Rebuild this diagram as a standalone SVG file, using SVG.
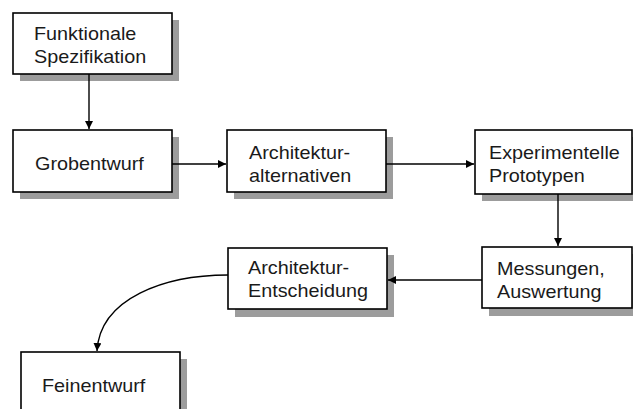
<svg xmlns="http://www.w3.org/2000/svg" width="633" height="409" viewBox="0 0 633 409">
<defs>
<style>
.box{fill:#fff;stroke:#000;stroke-width:1.6}
.sh{fill:#9c9c9c}
.t{font-family:"Liberation Sans",Arial,sans-serif;font-size:18px;fill:#1a1a1a}
.c{fill:none;stroke:#000;stroke-width:1.4}
</style>
<marker id="ah" viewBox="0 0 10 10" refX="10" refY="5" markerWidth="8" markerHeight="8" markerUnits="userSpaceOnUse" orient="auto">
<path d="M0,0 L10,5 L0,10 Z" fill="#000"/>
</marker>
</defs>
<rect width="633" height="409" fill="#fff"/>
<g id="n1">
<rect class="sh" x="20" y="20" width="159" height="61"/>
<rect class="box" x="13" y="13" width="159" height="61"/>
<g transform="translate(34,40) scale(1.1,1)"><text class="t" x="0" y="0">Funktionale</text><text class="t" x="0" y="23">Spezifikation</text></g>
</g>
<g id="n2">
<rect class="sh" x="20" y="137" width="159" height="62"/>
<rect class="box" x="13" y="130" width="159" height="62"/>
<g transform="translate(35,170) scale(1.1,1)"><text class="t" x="0" y="0">Grobentwurf</text></g>
</g>
<g id="n3">
<rect class="sh" x="234" y="137" width="159" height="62"/>
<rect class="box" x="227" y="130" width="159" height="62"/>
<g transform="translate(249,159) scale(1.1,1)"><text class="t" x="0" y="0">Architektur-</text><text class="t" x="0" y="23">alternativen</text></g>
</g>
<g id="n4">
<rect class="sh" x="482" y="137" width="160" height="64"/>
<rect class="box" x="475" y="130" width="157" height="64"/>
<g transform="translate(489,159) scale(1.1,1)"><text class="t" x="0" y="0">Experimentelle</text><text class="t" x="0" y="23">Prototypen</text></g>
</g>
<g id="n5">
<rect class="sh" x="489" y="254" width="160" height="62"/>
<rect class="box" x="482" y="247" width="150" height="61"/>
<g transform="translate(497,275) scale(1.1,1)"><text class="t" x="0" y="0">Messungen,</text><text class="t" x="0" y="23">Auswertung</text></g>
</g>
<g id="n6">
<rect class="sh" x="235" y="255" width="159" height="62"/>
<rect class="box" x="228" y="248" width="159" height="61"/>
<g transform="translate(248,274) scale(1.1,1)"><text class="t" x="0" y="0">Architektur-</text><text class="t" x="0" y="23">Entscheidung</text></g>
</g>
<g id="n7">
<rect class="sh" x="28" y="359" width="159" height="70"/>
<rect class="box" x="21" y="352" width="159" height="70"/>
<g transform="translate(42,392) scale(1.1,1)"><text class="t" x="0" y="0">Feinentwurf</text></g>
</g>
<g id="connectors">
<path class="c" d="M89,74 V129" marker-end="url(#ah)"/>
<path class="c" d="M172,164 H226" marker-end="url(#ah)"/>
<path class="c" d="M386,164 H474" marker-end="url(#ah)"/>
<path class="c" d="M558,194 V246" marker-end="url(#ah)"/>
<path class="c" d="M482,280 H388" marker-end="url(#ah)"/>
<path class="c" d="M228,275 C165,275 100,298 97,351" marker-end="url(#ah)"/>
</g>
</svg>
